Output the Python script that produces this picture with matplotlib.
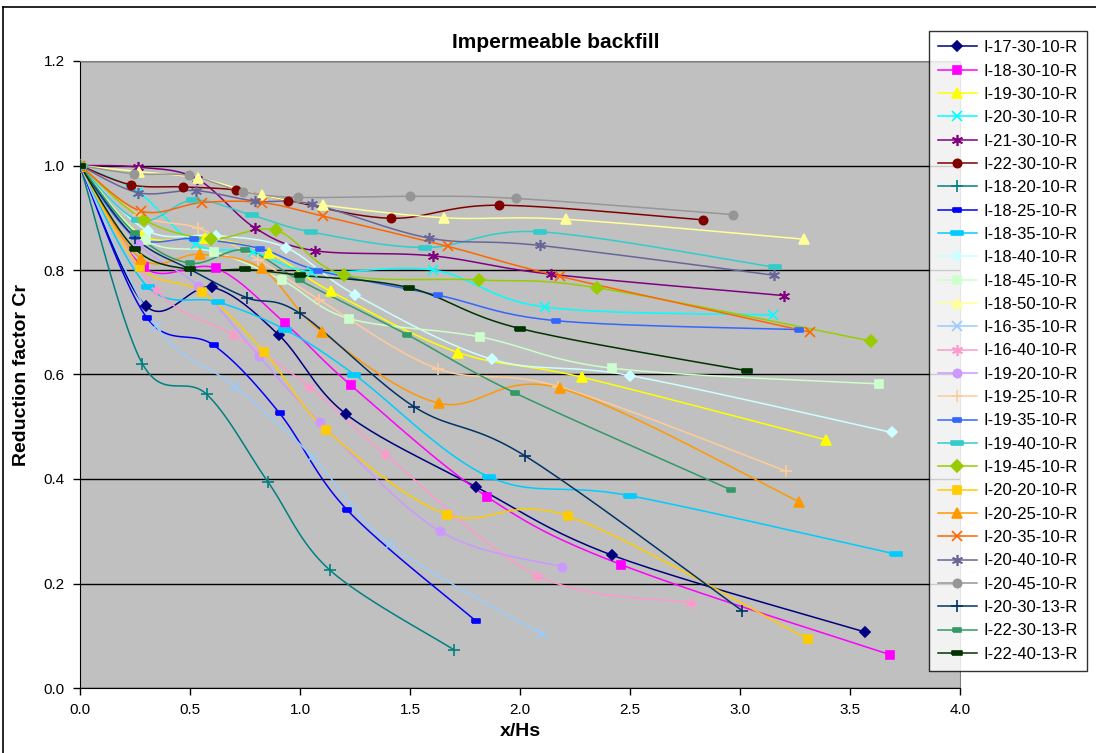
import numpy as np
import matplotlib
matplotlib.use("Agg")
import matplotlib.pyplot as plt
from matplotlib.lines import Line2D

plt.rcParams['font.family'] = ['Liberation Sans', 'DejaVu Sans']

# ---- data (x/Hs, Cr) ----
names = ["I-17-30-10-R", "I-18-30-10-R", "I-19-30-10-R", "I-20-30-10-R", "I-21-30-10-R",
         "I-22-30-10-R", "I-18-20-10-R", "I-18-25-10-R", "I-18-35-10-R", "I-18-40-10-R",
         "I-18-45-10-R", "I-18-50-10-R", "I-16-35-10-R", "I-16-40-10-R", "I-19-20-10-R",
         "I-19-25-10-R", "I-19-35-10-R", "I-19-40-10-R", "I-19-45-10-R", "I-20-20-10-R",
         "I-20-25-10-R", "I-20-35-10-R", "I-20-40-10-R", "I-20-45-10-R", "I-20-30-13-R",
         "I-22-30-13-R", "I-22-40-13-R"]

x_17_30_10 = [0, 0.30, 0.60, 0.905, 1.21, 1.80, 2.42, 3.57]
y_17_30_10 = [1.0, 0.731, 0.767, 0.675, 0.524, 0.385, 0.254, 0.107]
x_18_30_10 = [0, 0.29, 0.62, 0.93, 1.23, 1.85, 2.46, 3.68]
y_18_30_10 = [1.0, 0.805, 0.803, 0.699, 0.58, 0.366, 0.236, 0.064]
x_19_30_10 = [0, 0.28, 0.57, 0.86, 1.14, 1.72, 2.28, 3.39]
y_19_30_10 = [1.0, 0.867, 0.862, 0.832, 0.759, 0.642, 0.595, 0.475]
x_20_30_10 = [0, 0.265, 0.526, 0.785, 1.056, 1.605, 2.114, 3.15]
y_20_30_10 = [1.0, 0.949, 0.849, 0.835, 0.796, 0.80, 0.729, 0.714]
x_21_30_10 = [0, 0.265, 0.53, 0.797, 1.067, 1.605, 2.14, 3.20]
y_21_30_10 = [1.0, 0.997, 0.975, 0.880, 0.837, 0.827, 0.792, 0.751]
x_22_30_10 = [0, 0.232, 0.47, 0.71, 0.947, 1.415, 1.903, 2.83]
y_22_30_10 = [1.0, 0.963, 0.959, 0.953, 0.933, 0.899, 0.924, 0.896]
x_18_20_10 = [0, 0.283, 0.576, 0.855, 1.135, 1.70]
y_18_20_10 = [1.0, 0.621, 0.562, 0.394, 0.226, 0.073]
x_18_25_10 = [0, 0.303, 0.608, 0.907, 1.214, 1.80]
y_18_25_10 = [1.0, 0.709, 0.656, 0.526, 0.341, 0.128]
x_18_35_10 = [0, 0.307, 0.626, 0.932, 1.247, 1.86, 2.50, 3.71]
y_18_35_10 = [1.0, 0.768, 0.739, 0.686, 0.60, 0.404, 0.368, 0.256]
x_18_40_10 = [0, 0.307, 0.62, 0.935, 1.25, 1.874, 2.50, 3.69]
y_18_40_10 = [1.0, 0.875, 0.866, 0.843, 0.753, 0.629, 0.598, 0.489]
x_18_45_10 = [0, 0.30, 0.61, 0.917, 1.223, 1.818, 2.42, 3.63]
y_18_45_10 = [1.0, 0.857, 0.835, 0.781, 0.707, 0.672, 0.612, 0.582]
x_18_50_10 = [0, 0.27, 0.538, 0.829, 1.106, 1.655, 2.21, 3.29]
y_18_50_10 = [1.0, 0.988, 0.976, 0.943, 0.924, 0.90, 0.897, 0.859]
x_16_35_10 = [0, 0.345, 0.705, 1.056, 1.41, 2.10]
y_16_35_10 = [1.0, 0.693, 0.577, 0.443, 0.275, 0.103]
x_16_40_10 = [0, 0.345, 0.697, 1.042, 1.386, 2.079, 2.776]
y_16_40_10 = [1.0, 0.762, 0.675, 0.577, 0.448, 0.215, 0.163]
x_19_20_10 = [0, 0.265, 0.538, 0.812, 1.09, 1.636, 2.19]
y_19_20_10 = [1.0, 0.85, 0.769, 0.636, 0.509, 0.30, 0.232]
x_19_25_10 = [0, 0.27, 0.538, 0.81, 1.088, 1.626, 2.174, 3.21]
y_19_25_10 = [1.0, 0.905, 0.88, 0.82, 0.743, 0.611, 0.577, 0.415]
x_19_35_10 = [0, 0.25, 0.52, 0.818, 1.083, 1.626, 2.164, 3.27]
y_19_35_10 = [1.0, 0.864, 0.86, 0.841, 0.799, 0.752, 0.703, 0.686]
x_19_40_10 = [0, 0.265, 0.515, 0.78, 1.049, 1.57, 2.092, 3.16]
y_19_40_10 = [1.0, 0.895, 0.934, 0.905, 0.873, 0.843, 0.873, 0.805]
x_19_45_10 = [0, 0.292, 0.595, 0.89, 1.20, 1.812, 2.35, 3.595]
y_19_45_10 = [1.0, 0.896, 0.86, 0.876, 0.791, 0.781, 0.766, 0.664]
x_20_20_10 = [0, 0.273, 0.553, 0.838, 1.12, 1.668, 2.218, 3.31]
y_20_20_10 = [1.0, 0.806, 0.758, 0.643, 0.494, 0.332, 0.329, 0.093]
x_20_25_10 = [0, 0.276, 0.545, 0.826, 1.098, 1.633, 2.18, 3.27]
y_20_25_10 = [1.0, 0.822, 0.83, 0.803, 0.682, 0.545, 0.574, 0.356]
x_20_35_10 = [0, 0.276, 0.553, 0.826, 1.106, 1.673, 2.18, 3.32]
y_20_35_10 = [1.0, 0.913, 0.929, 0.929, 0.903, 0.845, 0.788, 0.681]
x_20_40_10 = [0, 0.264, 0.526, 0.795, 1.056, 1.588, 2.09, 3.155]
y_20_40_10 = [1.0, 0.948, 0.952, 0.932, 0.926, 0.861, 0.847, 0.79]
x_20_45_10 = [0, 0.247, 0.494, 0.742, 0.992, 1.50, 1.98, 2.967]
y_20_45_10 = [1.0, 0.984, 0.981, 0.95, 0.939, 0.941, 0.937, 0.906]
x_20_30_13 = [0, 0.249, 0.506, 0.758, 1.0, 1.52, 2.024, 3.01]
y_20_30_13 = [1.0, 0.862, 0.80, 0.747, 0.717, 0.538, 0.444, 0.148]
x_22_30_13 = [0, 0.25, 0.5, 0.75, 1.0, 1.488, 1.976, 2.96]
y_22_30_13 = [1.0, 0.87, 0.813, 0.838, 0.78, 0.676, 0.565, 0.379]
x_22_40_13 = [0, 0.249, 0.50, 0.75, 1.0, 1.497, 2.0, 3.033]
y_22_40_13 = [1.0, 0.841, 0.801, 0.801, 0.79, 0.766, 0.688, 0.607]

xs = [x_17_30_10, x_18_30_10, x_19_30_10, x_20_30_10, x_21_30_10, x_22_30_10,
      x_18_20_10, x_18_25_10, x_18_35_10, x_18_40_10, x_18_45_10, x_18_50_10,
      x_16_35_10, x_16_40_10, x_19_20_10, x_19_25_10, x_19_35_10, x_19_40_10,
      x_19_45_10, x_20_20_10, x_20_25_10, x_20_35_10, x_20_40_10, x_20_45_10,
      x_20_30_13, x_22_30_13, x_22_40_13]
ys = [y_17_30_10, y_18_30_10, y_19_30_10, y_20_30_10, y_21_30_10, y_22_30_10,
      y_18_20_10, y_18_25_10, y_18_35_10, y_18_40_10, y_18_45_10, y_18_50_10,
      y_16_35_10, y_16_40_10, y_19_20_10, y_19_25_10, y_19_35_10, y_19_40_10,
      y_19_45_10, y_20_20_10, y_20_25_10, y_20_35_10, y_20_40_10, y_20_45_10,
      y_20_30_13, y_22_30_13, y_22_40_13]

colors = ["#000080", "#FF00FF", "#FFFF00", "#00FFFF", "#800080", "#800000", "#008080",
          "#0000FF", "#00CCFF", "#CCFFFF", "#CCFFCC", "#FFFF99", "#99CCFF", "#FF99CC",
          "#CC99FF", "#FFCC99", "#3366FF", "#33CCCC", "#99CC00", "#FFCC00", "#FF9900",
          "#FF6600", "#666699", "#969696", "#003366", "#339966", "#003300"]

# excel-ish marker cycle
dash = [(-1, -0.4), (1, -0.4), (1, 0.4), (-1, 0.4), (-1, -0.4)]
star = (6, 2, 0)
mk_cycle = [("D", 5), ("s", 6), ("^", 7), ("x", 7), (star, 8), ("o", 6), ("+", 8), (dash, 6),
            (dash, 8), ("D", 5), ("s", 6), ("^", 7), ("x", 7), (star, 8), ("o", 6), ("+", 8),
            (dash, 6), (dash, 8), ("D", 6), ("s", 6), ("^", 7), ("x", 7), (star, 8), ("o", 6),
            ("+", 8), (dash, 6), (dash, 7)]


def smooth(x, y, n=24):
    # excel style smoothed line (bezier through points)
    p = np.column_stack([x, y]).astype(float)
    out = [p[0]]
    t = np.linspace(0, 1, n)[1:, None]
    for i in range(len(p) - 1):
        p0 = p[i - 1] if i > 0 else p[i]
        p1, p2 = p[i], p[i + 1]
        p3 = p[i + 2] if i + 2 < len(p) else p[i + 1]
        b1 = p1 + (p2 - p0) / 6
        b2 = p2 - (p3 - p1) / 6
        seg = (1 - t) ** 3 * p1 + 3 * (1 - t) ** 2 * t * b1 + 3 * (1 - t) * t ** 2 * b2 + t ** 3 * p2
        out.extend(seg)
    out = np.array(out)
    return out[:, 0], out[:, 1]


W, H = 1096, 753
fig = plt.figure(figsize=(W / 100, H / 100), dpi=100)
ax = fig.add_axes([80 / W, 1 - 688 / H, 880 / W, 627 / H])
ax.set_facecolor("#C0C0C0")

handles = []
for i in range(len(names)):
    sx, sy = smooth(xs[i], ys[i])
    m, ms = mk_cycle[i]
    ax.plot(sx, sy, color=colors[i], lw=1.1, zorder=3 + i * 0.01, solid_capstyle="round")
    ax.plot(xs[i], ys[i], ls="none", marker=m, ms=ms, color=colors[i],
            mec=colors[i], mew=1.2, zorder=4 + i * 0.01)
    handles.append(Line2D([], [], color=colors[i], lw=1.1, marker=m, ms=ms,
                          mec=colors[i], mew=1.2, label=names[i]))

ax.set_xlim(0, 4)
ax.set_ylim(0, 1.2)
ax.set_xticks(np.arange(0, 4.01, 0.5))
ax.set_yticks(np.arange(0, 1.21, 0.2))
ax.xaxis.set_major_formatter(matplotlib.ticker.FormatStrFormatter("%.1f"))
ax.yaxis.set_major_formatter(matplotlib.ticker.FormatStrFormatter("%.1f"))
ax.tick_params(direction="out", length=5, width=1, labelsize=11, pad=6)
ax.grid(axis="y", color="black", lw=1)
ax.set_axisbelow(True)
for s in ["top", "right"]:
    ax.spines[s].set_color("#808080")
for s in ["left", "bottom"]:
    ax.spines[s].set_color("black")

ax.set_xlabel("x/Hs", fontsize=14, fontweight="bold", labelpad=4)
ax.set_ylabel("Reduction factor Cr", fontsize=14, fontweight="bold", labelpad=10)
fig.text(556 / W, 1 - 42 / H, "Impermeable backfill", fontsize=15, fontweight="bold",
         ha="center", va="center")

leg = fig.legend(handles=handles, loc="upper left", bbox_to_anchor=(929 / W, 1 - 31 / H),
                 fontsize=12, frameon=True, fancybox=False, edgecolor="black",
                 handlelength=2.3, handletextpad=0.4, labelspacing=0.5, borderpad=0.55,
                 borderaxespad=0)
leg.get_frame().set_linewidth(1)

# outer chart border
fig.add_artist(Line2D([3 / W, 3 / W], [0, 1 - 7 / H], color="black", lw=1.2))
fig.add_artist(Line2D([3 / W, 1], [1 - 7 / H, 1 - 7 / H], color="black", lw=1.2))

fig.savefig("out.png", dpi=100)
